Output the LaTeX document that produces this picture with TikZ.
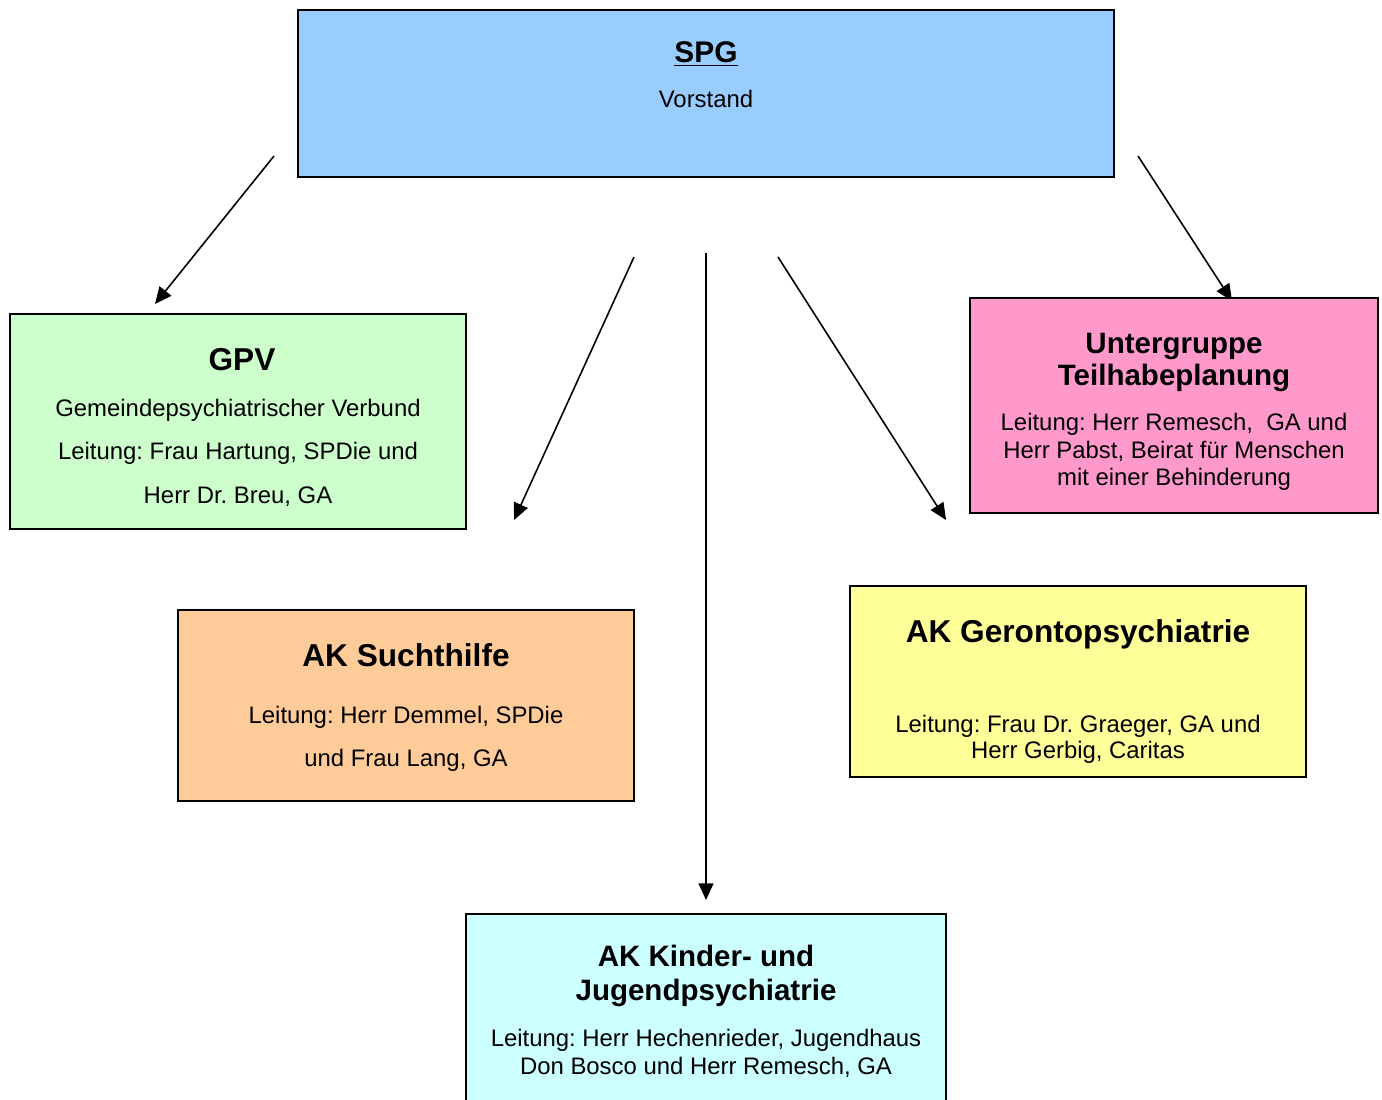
\documentclass[tikz,border=0pt]{standalone}
\usepackage{fontspec}
\setmainfont{Liberation Sans}
\usetikzlibrary{arrows.meta}
\definecolor{cspg}{HTML}{99CCFF}
\definecolor{cgpv}{HTML}{CCFFCC}
\definecolor{cug}{HTML}{FF99CC}
\definecolor{csucht}{HTML}{FFCC99}
\definecolor{cgeronto}{HTML}{FFFF99}
\definecolor{ckinder}{HTML}{CCFFFF}
\tikzset{
  box/.style={draw=black, line width=1pt, rectangle, inner sep=0pt},
  conn/.style={line width=0.9pt, -{Triangle[length=9.5pt,width=8.5pt]}},
  ttl/.style={anchor=base, inner sep=0pt, font=\fontsize{18}{21}\selectfont\bfseries},
  ttlsmall/.style={anchor=base, inner sep=0pt, font=\fontsize{16.8}{20}\selectfont\bfseries},
  bdy/.style={anchor=base, inner sep=0pt, font=\fontsize{13.6}{16}\selectfont},
}
\frenchspacing
\begin{document}
\begin{tikzpicture}[x=0.02cm, y=-0.02cm]
\useasboundingbox (0,0) rectangle (1382,1099);
% connector end points
\coordinate (a1s) at (274,156);  \coordinate (a1e) at (155,304);
\coordinate (a2s) at (634,257);  \coordinate (a2e) at (514,520);
\coordinate (a3s) at (706,253);  \coordinate (a3e) at (706,900);
\coordinate (a4s) at (778,257);  \coordinate (a4e) at (946,520);
\coordinate (a5s) at (1138,156); \coordinate (a5e) at (1232,301);
\draw[conn] (a1s) -- (a1e);
\draw[conn] (a2s) -- (a2e);
\draw[conn] (a3s) -- (a3e);
\draw[conn] (a4s) -- (a4e);
\draw[conn] (a5s) -- (a5e);
% boxes
\node[box, fill=cspg, minimum width=16.32cm, minimum height=3.34cm] (spg) at (706,93.5) {};
\node[box, fill=cgpv, minimum width=9.12cm, minimum height=4.3cm] (gpv) at (238,421.5) {};
\node[box, fill=cug, minimum width=8.16cm, minimum height=4.3cm] (ug) at (1174,405.5) {};
\node[box, fill=csucht, minimum width=9.12cm, minimum height=3.82cm] (sucht) at (406,705.5) {};
\node[box, fill=cgeronto, minimum width=9.12cm, minimum height=3.82cm] (geronto) at (1078,681.5) {};
\node[box, fill=ckinder, minimum width=9.6cm, minimum height=4.0cm] (kinder) at (706,1014) {};
% texts
\node[ttl, font=\fontsize{17}{20}\selectfont\bfseries] (spgT) at (706,62.7) {\underline{SPG}};
\node[bdy] (spgB) at (706,107.3) {Vorstand};

\node[ttl] (gpvT) at (242,370) {GPV};
\node[bdy] (gpvB1) at (238,416.7) {Gemeindepsychiatrischer Verbund};
\node[bdy] (gpvB2) at (238,459.3) {Leitung: Frau Hartung, SPDie und};
\node[bdy] (gpvB3) at (238,503.3) {Herr Dr. Breu, GA};

\node[ttlsmall] (ugT1) at (1174,353.3) {Untergruppe};
\node[ttlsmall] (ugT2) at (1174,385) {Teilhabeplanung};
\node[bdy] (ugB1) at (1174,430) {Leitung: Herr Remesch,\ \ GA und};
\node[bdy] (ugB2) at (1174,458.3) {Herr Pabst, Beirat für Menschen};
\node[bdy] (ugB3) at (1174,485) {mit einer Behinderung};

\node[ttl] (suchtT) at (406,666) {AK Suchthilfe};
\node[bdy] (suchtB1) at (406,723.3) {Leitung: Herr Demmel, SPDie};
\node[bdy] (suchtB2) at (406,766.7) {und Frau Lang, GA};

\node[ttl] (gerontoT) at (1078,642.3) {AK Gerontopsychiatrie};
\node[bdy] (gerontoB1) at (1078,732.7) {Leitung: Frau Dr. Graeger, GA und};
\node[bdy] (gerontoB2) at (1078,758.3) {Herr Gerbig, Caritas};

\node[ttlsmall] (kinderT1) at (706,966.7) {AK Kinder- und};
\node[ttlsmall] (kinderT2) at (706,1000) {Jugendpsychiatrie};
\node[bdy] (kinderB1) at (706,1046.7) {Leitung: Herr Hechenrieder, Jugendhaus};
\node[bdy] (kinderB2) at (706,1074.3) {Don Bosco und Herr Remesch, GA};
\end{tikzpicture}
\end{document}
